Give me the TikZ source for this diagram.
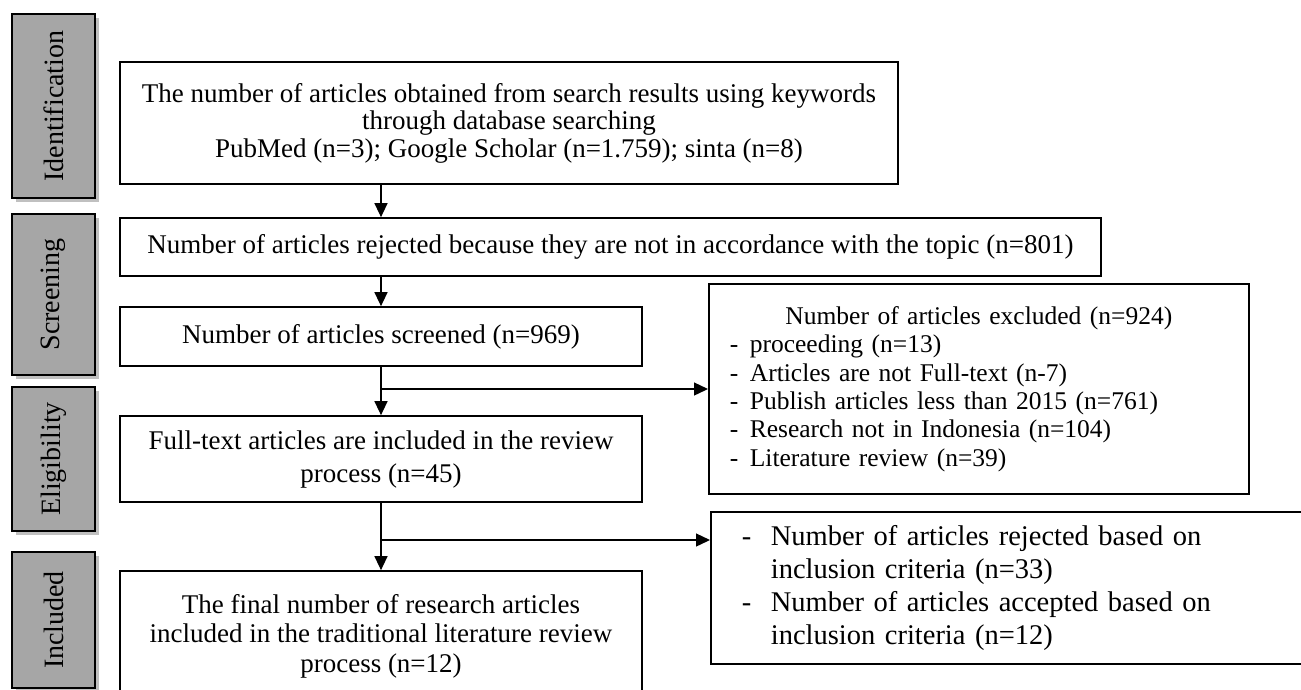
\documentclass[tikz,border=0pt]{standalone}
\usepackage{fontspec}
\usepackage{graphicx}
\setmainfont{Liberation Serif}
\usetikzlibrary{arrows.meta,shadows}
\definecolor{phasegray}{RGB}{166,166,166}
\definecolor{shadowgray}{RGB}{192,192,192}
\begin{document}
\begin{tikzpicture}[x=1pt,y=-1pt,
  txt/.style={font=\fontsize{27}{27.5}\selectfont},
  box/.style={draw, line width=1.7pt, rectangle, inner sep=0pt, align=center, txt},
  phase/.style={draw, line width=1.8pt, fill=phasegray, minimum width=83pt, inner sep=0pt,
    font=\fontsize{28}{30}\selectfont,
    drop shadow={shadow xshift=4pt, shadow yshift=-4pt, fill=shadowgray, opacity=1}},
  arr/.style={line width=1.3pt, -{Triangle[width=13pt,length=14pt]}}]
\useasboundingbox (0,0) rectangle (1301,689);

% phase bars
\node[phase, minimum height=184pt] (pid) at (53.5,106) {\rotatebox{90}{Identification}};
\node[phase, minimum height=161pt] (psc) at (53.5,294.5) {\rotatebox{90}{Screening}};
\node[phase, minimum height=144pt] (pel) at (53.5,459) {\rotatebox{90}{Eligibility}};
\node[phase, minimum height=136pt] (pin) at (53.5,620) {\rotatebox{90}{Included}};

% main boxes
\node[box, minimum width=778pt, minimum height=122pt] (b1) at (509,123)
  {The number of articles obtained from search results using keywords\\through database searching\\PubMed (n=3); Google Scholar (n=1.759); sinta (n=8)};
\node[box, minimum width=981pt, minimum height=58pt] (b2) at (610.5,247)
  {Number of articles rejected because they are not in accordance with the topic (n=801)};
\node[box, minimum width=522pt, minimum height=59pt] (b3) at (381,336.5)
  {Number of articles screened (n=969)};
\node[box, minimum width=522pt, minimum height=86pt, font=\fontsize{27}{33}\selectfont] (b4) at (381,459)
  {Full-text articles are included in the review\\process (n=45)};
\node[box, minimum width=522pt, minimum height=130pt, font=\fontsize{27}{29.5}\selectfont] (b5) at (381,636)
  {The final number of research articles\\included in the traditional literature review\\process (n=12)};

% side boxes
\node[box, anchor=west, minimum height=210pt, text width=498pt, inner xsep=21pt, align=left,
  font=\fontsize{25.5}{28.3}\selectfont] (ex) at (708,389)
  {\makebox[\linewidth][c]{Number of articles excluded (n=924)}\\
   \makebox[20pt][l]{-}proceeding (n=13)\\
   \makebox[20pt][l]{-}Articles are not Full-text (n-7)\\
   \makebox[20pt][l]{-}Publish articles less than 2015 (n=761)\\
   \makebox[20pt][l]{-}Research not in Indonesia (n=104)\\
   \makebox[20pt][l]{-}Literature review (n=39)};
\node[box, anchor=west, minimum height=152pt, text width=538pt, inner xsep=31pt, align=left,
  font=\fontsize{28.5}{33}\selectfont] (rb) at (710,588)
  {\makebox[29pt][l]{-}Number of articles rejected based on\\
   \hspace*{29pt}inclusion criteria (n=33)\\
   \makebox[29pt][l]{-}Number of articles accepted based on\\
   \hspace*{29pt}inclusion criteria (n=12)};

% connectors
\draw[arr] (b3.north |- b1.south) -- (b3.north |- b2.north);
\draw[arr] (b3.north |- b2.south) -- (b3.north);
\draw[arr] (b3.south) -- (b4.north);
\draw[arr] (b3.south |- ex.west) -- (ex.west);
\draw[arr] (b4.south) -- (b5.north);
\coordinate (j2) at (381,540);
\draw[arr] (j2) -- (j2 -| rb.west);
\end{tikzpicture}
\end{document}
